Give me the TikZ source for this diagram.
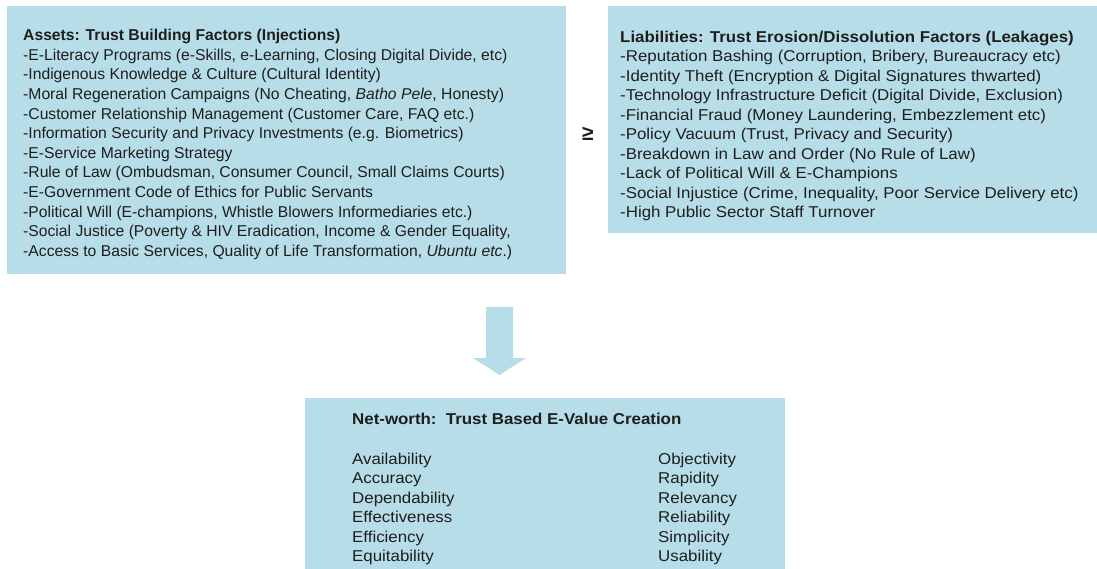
\documentclass[tikz,border=0pt]{standalone}
\usepackage{fontspec}
\setmainfont{Liberation Sans}
\newfontfamily\widefont[FakeStretch=1.075]{Liberation Sans}
\definecolor{boxblue}{RGB}{183,221,232}
\definecolor{ink}{RGB}{30,30,30}
\begin{document}
\begin{tikzpicture}[x=1pt,y=-1pt,
  panel/.style={fill=boxblue,draw=none,anchor=north west,inner sep=0pt},
  txt/.style={anchor=base west,inner sep=0pt,align=left,text=ink,
    font=\fontsize{15.7}{19.6}\selectfont},
  widetxt/.style={txt,font=\widefont\fontsize{15.7}{19.5}\selectfont},
  ]
\useasboundingbox (0,0) rectangle (1097,569);
% boxes
\node[panel,minimum width=559pt,minimum height=268pt] (assets) at (7,6) {};
\node[panel,minimum width=489pt,minimum height=227pt] (liab) at (608,6) {};
\node[panel,minimum width=480pt,minimum height=171pt] (net) at (305,398) {};
% texts (anchor = baseline of last line)
\node[txt] (assetstxt) at (23,256.3) {\textbf{Assets: Trust Building Factors (Injections)}\\
-E-Literacy Programs (e-Skills, e-Learning, Closing Digital Divide, etc)\\
-Indigenous Knowledge \& Culture (Cultural Identity)\\
-Moral Regeneration Campaigns (No Cheating, \textit{Batho Pele}, Honesty)\\
-Customer Relationship Management (Customer Care, FAQ etc.)\\
-Information Security and Privacy Investments (e.g. Biometrics)\\
-E-Service Marketing Strategy\\
-Rule of Law (Ombudsman, Consumer Council, Small Claims Courts)\\
-E-Government Code of Ethics for Public Servants\\
-Political Will (E-champions, Whistle Blowers Informediaries etc.)\\
-Social Justice (Poverty \& HIV Eradication, Income \& Gender Equality,\\
-Access to Basic Services, Quality of Life Transformation, \textit{Ubuntu etc}.)};
\node[widetxt] (liabtxt) at (620,218) {\textbf{Liabilities: Trust Erosion/Dissolution Factors (Leakages)}\\
-Reputation Bashing (Corruption, Bribery, Bureaucracy etc)\\
-Identity Theft (Encryption \& Digital Signatures thwarted)\\
-Technology Infrastructure Deficit (Digital Divide, Exclusion)\\
-Financial Fraud (Money Laundering, Embezzlement etc)\\
-Policy Vacuum (Trust, Privacy and Security)\\
-Breakdown in Law and Order (No Rule of Law)\\
-Lack of Political Will \& E-Champions\\
-Social Injustice (Crime, Inequality, Poor Service Delivery etc)\\
-High Public Sector Staff Turnover};
\node[anchor=center,inner sep=0pt,text=ink,font=\fontsize{21}{22}\selectfont\bfseries] (geq) at (588,134) {≥};
\node[widetxt] (nettitle) at (352,424.5) {\textbf{Net-worth:\ \ Trust Based E-Value Creation}};
\node[widetxt] (netleft) at (352,561.5) {Availability\\Accuracy\\Dependability\\Effectiveness\\Efficiency\\Equitability};
\node[widetxt] (netright) at (658,561.5) {Objectivity\\Rapidity\\Relevancy\\Reliability\\Simplicity\\Usability};
% arrow
\fill[boxblue] (486,307) -- (513,307) -- (513,358) -- (526,358) -- (499.5,375) -- (473,358) -- (486,358) -- cycle;
\end{tikzpicture}
\end{document}
